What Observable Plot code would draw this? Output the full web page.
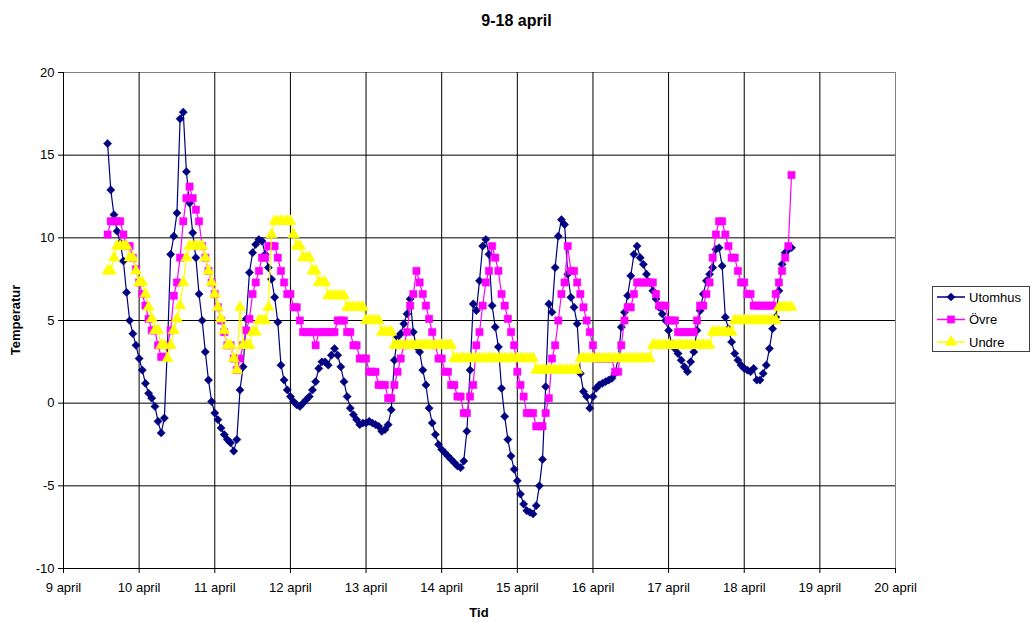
<!DOCTYPE html>
<html><head><meta charset="utf-8">
<script src="https://cdn.jsdelivr.net/npm/d3@7"></script>
<script src="https://cdn.jsdelivr.net/npm/@observablehq/plot@0.6"></script>
<style>
body{margin:0;background:#fff;font-family:"Liberation Sans",Arial,sans-serif;}
#wrap{position:relative;width:1033px;height:622px;overflow:hidden;}
#chart{position:absolute;left:0;top:0;}
.lbl{position:absolute;font-weight:bold;color:#000;white-space:nowrap;}
#title{left:0;width:1033px;top:12px;text-align:center;font-size:16px;}
#ylab{left:15px;top:320px;font-size:13px;transform:translate(-50%,-50%) rotate(-90deg);}
#xlab{left:479px;top:612px;font-size:13px;transform:translate(-50%,-50%);}
#legend{position:absolute;left:932px;top:286px;}
</style></head>
<body>
<div id="wrap">
  <div id="chart"></div>
  <div class="lbl" id="title">9-18 april</div>
  <div class="lbl" id="ylab">Temperatur</div>
  <div class="lbl" id="xlab">Tid</div>
  <div id="legend"></div>
</div>
<script>
// Hourly readings starting 9 april 14:00
const startDay = 9 + 14/24;
const dayTicks = [9,10,11,12,13,14,15,16,17,18,19,20];
const tempTicks = [-10,-5,0,5,10,15,20];
const seriesNames = ["Utomhus","Övre","Undre"];

const utomhus = [
15.7,12.9,11.4,10.4,9.7,8.6,6.7,5.0,4.2,3.5,
2.7,2.0,1.2,0.6,0.3,-0.2,-1.1,-1.8,-0.9,3.5,
9.0,10.1,11.5,17.2,17.6,14.0,12.1,10.3,8.8,6.6,
5.0,3.1,1.4,0.1,-0.6,-1.0,-1.5,-1.9,-2.2,-2.4,
-2.9,-2.2,0.8,2.2,5.1,7.9,9.1,9.6,9.9,9.8,
9.0,8.2,7.5,6.4,4.9,2.3,1.4,0.8,0.4,0.1,
-0.1,-0.2,0.0,0.2,0.4,0.8,1.3,2.1,2.5,2.5,
2.3,2.9,3.3,2.9,2.2,1.3,0.4,-0.3,-0.7,-1.0,
-1.3,-1.2,-1.2,-1.1,-1.2,-1.3,-1.4,-1.7,-1.6,-1.3,
-0.4,2.6,4.0,4.2,4.8,5.4,6.3,4.3,3.4,3.1,
2.0,1.1,-0.3,-1.2,-1.9,-2.5,-2.8,-3.0,-3.2,-3.4,
-3.6,-3.8,-3.9,-3.5,-1.7,2.0,6.0,5.6,7.4,9.5,
9.9,9.0,5.9,4.6,3.4,0.9,-0.8,-2.2,-3.2,-4.0,
-4.7,-5.5,-6.1,-6.5,-6.6,-6.7,-6.2,-5.0,-3.4,1.0,
6.0,5.5,8.2,10.1,11.1,10.8,7.8,6.4,5.8,4.8,
1.8,0.7,0.4,-0.3,0.4,0.9,1.1,1.2,1.3,1.4,
1.5,1.8,2.7,4.6,5.5,6.5,7.7,9.0,9.5,8.8,
8.4,7.8,7.3,6.8,6.3,5.8,5.4,5.0,4.4,3.6,
3.3,3.0,2.6,2.2,1.9,2.5,3.1,4.4,5.6,6.6,
7.4,7.8,8.2,9.3,9.4,8.3,5.2,4.5,3.7,3.0,
2.6,2.3,2.1,2.0,1.9,2.1,1.4,1.4,1.8,2.3,
3.3,4.5,5.2,6.8,8.4,9.1,9.3,9.4];

const ovre = [
10.2,11.0,11.0,11.0,11.0,10.2,9.5,9.5,8.8,8.1,
7.3,6.6,5.9,5.1,4.4,4.4,3.5,2.8,2.8,3.5,
4.4,6.5,7.3,8.8,11.0,12.4,13.1,12.4,11.7,11.0,
9.5,8.8,8.0,7.3,6.6,5.8,5.0,4.3,3.5,3.5,
2.7,2.0,2.7,3.5,4.4,5.1,6.6,7.3,8.0,8.8,
8.8,9.5,9.5,9.5,8.8,8.0,7.3,6.6,6.6,5.8,
5.8,5.0,4.3,4.3,4.3,4.3,3.5,4.3,4.3,4.3,
4.3,4.3,4.3,5.0,5.0,5.0,4.3,4.3,3.5,3.5,
2.7,2.7,2.7,1.9,1.9,1.9,1.1,1.1,1.1,0.3,
0.3,1.1,1.9,2.7,3.5,4.3,5.9,6.6,8.0,7.3,
6.6,5.9,5.1,4.3,3.5,2.7,2.7,1.9,1.9,1.1,
1.1,0.4,0.4,-0.6,-0.6,0.4,1.1,3.5,4.3,5.9,
7.3,8.0,9.5,8.8,8.0,6.6,5.9,5.1,4.3,3.5,
1.9,1.1,0.4,-0.6,-0.6,-0.6,-1.4,-1.4,-1.4,-0.6,
0.3,2.7,3.5,5.0,6.6,7.3,9.5,8.0,8.0,7.3,
6.6,5.8,5.0,4.3,3.5,2.7,2.7,2.7,2.7,2.7,
2.7,1.9,1.9,3.5,5.0,5.8,5.8,6.6,7.3,7.3,
7.3,7.3,7.3,7.3,6.6,5.9,5.9,5.9,5.0,5.0,
5.0,4.3,4.3,4.3,4.3,4.3,4.3,5.0,5.9,5.9,
6.6,7.3,8.8,10.2,11.0,11.0,10.2,9.5,8.8,8.8,
8.0,7.3,7.3,6.6,6.6,5.9,5.9,5.9,5.9,5.9,
5.9,5.9,6.6,7.3,8.0,8.8,9.5,13.8];

const undre = [
8.0,8.0,8.8,9.5,9.5,9.5,9.5,8.8,8.8,8.0,
7.3,7.3,6.6,5.8,5.1,4.4,4.4,3.5,3.5,2.7,
3.5,4.4,5.1,5.9,7.3,8.8,9.5,9.5,9.5,9.5,
9.5,8.8,8.0,7.3,6.6,5.8,5.1,4.4,3.5,3.5,
2.7,2.0,5.8,3.5,3.5,3.5,4.3,4.3,5.0,5.0,
5.0,5.8,10.2,11.0,11.0,11.0,11.0,11.0,11.0,10.2,
9.5,9.5,8.8,8.8,8.8,8.0,8.0,7.3,7.3,7.3,
6.5,6.5,6.5,6.5,6.5,6.5,5.8,5.8,5.8,5.8,
5.8,5.8,5.0,5.0,5.0,5.0,5.0,4.3,4.3,4.3,
4.3,3.5,3.5,3.5,3.5,3.5,3.5,3.5,3.5,3.5,
3.5,3.5,3.5,3.5,3.5,3.5,3.5,3.5,3.5,3.5,
2.7,2.7,2.7,2.7,2.7,2.7,2.7,2.7,2.7,2.7,
2.7,2.7,2.7,2.7,2.7,2.7,2.7,2.7,2.7,2.7,
2.7,2.7,2.7,2.7,2.7,2.7,2.0,2.0,2.0,2.0,
2.0,2.0,2.0,2.0,2.0,2.0,2.0,2.0,2.0,2.0,
2.7,2.7,2.7,2.7,2.7,2.7,2.7,2.7,2.7,2.7,
2.7,2.7,2.7,2.7,2.7,2.7,2.7,2.7,2.7,2.7,
2.7,2.7,2.7,3.5,3.5,3.5,3.5,3.5,3.5,3.5,
3.5,3.5,3.5,3.5,3.5,3.5,3.5,3.5,3.5,3.5,
3.5,3.5,4.3,4.3,4.3,4.3,4.3,4.3,4.3,5.0,
5.0,5.0,5.0,5.0,5.0,5.0,5.0,5.0,5.0,5.0,
5.0,5.0,5.0,5.8,5.8,5.8,5.8,5.8];

const colors = ["#000080","#FF00FF","#FFFF00"];
const symbols = ["diamond2","square","triangle"];
const radii = [3.7, 4.1, 4.2];

const T = (d, i) => startDay + i / 24;
const V = d => d;

function seriesMarks(values, k) {
  return [
    Plot.line(values, {x: T, y: V, stroke: colors[k], strokeWidth: 1.2}),
    Plot.dot(values, {x: T, y: V, symbol: symbols[k], r: radii[k], fill: colors[k], stroke: colors[k], strokeWidth: 0.5})
  ];
}

const chart = Plot.plot({
  width: 1033,
  height: 622,
  marginLeft: 63,
  marginRight: 138,
  marginTop: 72,
  marginBottom: 54,
  style: {fontFamily: "'Liberation Sans', Arial, sans-serif", fontSize: "13px", background: "white", color: "black"},
  x: {domain: [9, 20], label: null},
  y: {domain: [-10, 20], label: null},
  marks: [
    Plot.frame({stroke: "#808080"}),
    Plot.gridX(dayTicks.slice(1, -1), {stroke: "black", strokeOpacity: 1, strokeWidth: 1}),
    Plot.gridY(tempTicks.slice(1, -1), {stroke: "black", strokeOpacity: 1, strokeWidth: 1}),
    Plot.ruleX([9], {stroke: "black"}),
    Plot.ruleY([-10], {stroke: "black"}),
    Plot.axisX(dayTicks, {tickFormat: d => `${d} april`, tickSize: 5, tickPadding: 9, label: null, fill: "black"}),
    Plot.axisY(tempTicks, {tickSize: 5, tickPadding: 4, label: null, fill: "black", tickFormat: d => String(d)}),
    ...seriesMarks(utomhus, 0),
    ...seriesMarks(ovre, 1),
    ...seriesMarks(undre, 2)
  ]
});
document.getElementById("chart").appendChild(chart);

// Legend
const lw = 98, lh = 66;
const lsvg = d3.select("#legend").append("svg").attr("width", lw).attr("height", lh)
  .style("font-family", "'Liberation Sans', Arial, sans-serif").style("font-size", "13px");
lsvg.append("rect").attr("x", 0.5).attr("y", 0.5).attr("width", lw - 1).attr("height", lh - 1)
  .attr("fill", "white").attr("stroke", "#404040");
const symGen = [d3.symbolDiamond2, d3.symbolSquare, d3.symbolTriangle];
seriesNames.forEach((name, k) => {
  const y = 11 + k * 22.5;
  lsvg.append("line").attr("x1", 5).attr("x2", 33).attr("y1", y).attr("y2", y)
    .attr("stroke", colors[k]).attr("stroke-width", 1.5);
  lsvg.append("path").attr("transform", `translate(19,${y})`)
    .attr("d", d3.symbol(symGen[k], Math.PI * radii[k] * radii[k])())
    .attr("fill", colors[k]).attr("stroke", colors[k]).attr("stroke-width", 0.5);
  lsvg.append("text").attr("x", 37).attr("y", y).attr("dy", "0.36em").text(name);
});
</script>
</body></html>
